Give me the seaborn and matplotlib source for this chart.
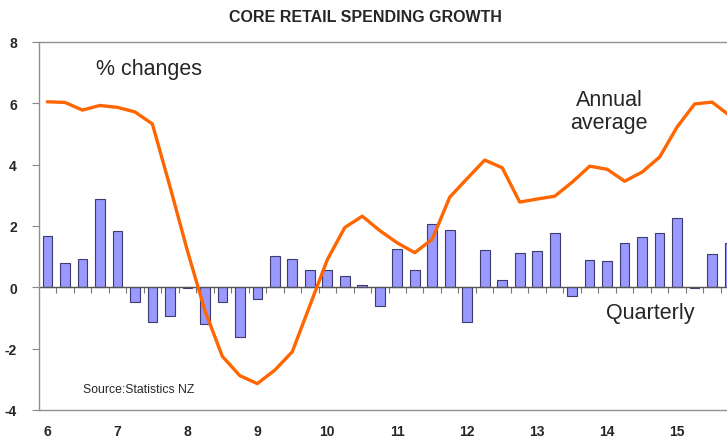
import numpy as np
import pandas as pd
import matplotlib
matplotlib.use("Agg")
import matplotlib.pyplot as plt
import seaborn as sns

# ---- data (quarterly, 2006 Q1 .. 2015 Q4) ----
quarter_idx = list(range(40))
quarterly = [1.67, 0.80, 0.91, 2.88, 1.83, -0.48, -1.12, -0.95, -0.03, -1.20,
             -0.48, -1.62, -0.38, 1.03, 0.92, 0.56, 0.56, 0.36, 0.06, -0.62,
             1.25, 0.56, 2.07, 1.88, -1.13, 1.22, 0.24, 1.12, 1.18, 1.77,
             -0.28, 0.90, 0.86, 1.45, 1.63, 1.77, 2.27, -0.02, 1.10, 1.45]
annual_avg = [6.05, 6.03, 5.78, 5.93, 5.87, 5.72, 5.33, 3.30, 1.20, -0.75,
              -2.25, -2.88, -3.14, -2.70, -2.10, -0.60, 0.90, 1.95, 2.32, 1.85,
              1.45, 1.13, 1.57, 2.94, 3.55, 4.15, 3.90, 2.78, 2.88, 2.97,
              3.43, 3.95, 3.85, 3.46, 3.76, 4.25, 5.23, 5.98, 6.04, 5.60]
year_labels = ["6", "7", "8", "9", "10", "11", "12", "13", "14", "15"]
y_ticks = [-4, -2, 0, 2, 4, 6, 8]

df = pd.DataFrame({"q": quarter_idx, "quarterly": quarterly, "annual": annual_avg})

sns.set_style("white")
plt.rcParams["font.family"] = ["Liberation Sans", "DejaVu Sans"]

fig = plt.figure(figsize=(7.27, 4.39), dpi=100)
ax = fig.add_axes([39 / 727, 1 - 411 / 439, 1 - 39 / 727, (411 - 43) / 439])

sns.barplot(data=df, x="q", y="quarterly", native_scale=True, width=0.55,
            color="#9999ff", saturation=1, edgecolor="#3c3c6e", linewidth=0.8,
            ax=ax, zorder=2)
sns.lineplot(data=df, x="q", y="annual", color="#ff6600", linewidth=2.4,
             ax=ax, zorder=3)

ax.axhline(0, color="#555555", linewidth=1.0, zorder=2.5)

ax.set_xlim(-0.48, 38.85)
ax.set_ylim(-4, 8)
ax.set_yticks(y_ticks)
ax.set_yticklabels([str(v) for v in y_ticks], fontsize=10, fontweight="bold")
ax.set_xticks(np.arange(0, 40, 4))
ax.set_xticklabels(year_labels, fontsize=10, fontweight="bold")
ax.tick_params(axis="y", direction="out", length=5, color="#888888", pad=11, left=True)
ax.tick_params(axis="x", length=0, pad=10)
ax.set_xlabel("")
ax.set_ylabel("")

for side in ["left", "top", "bottom"]:
    ax.spines[side].set_color("#909090")
    ax.spines[side].set_linewidth(1.0)
ax.spines["right"].set_visible(False)

# small ticks between quarters on the zero line
sec = ax.secondary_xaxis(4 / 12)
sec.set_xticks(np.arange(0.5, 39, 1))
sec.tick_params(axis="x", direction="out", length=4, color="#777777",
                labelbottom=False, labeltop=False, bottom=True, top=False)
sec.xaxis.set_ticks_position("bottom")
sec.set_xticklabels([])
for s in sec.spines.values():
    s.set_visible(False)

fig.text(365 / 727, 1 - 17.5 / 439, "CORE RETAIL SPENDING GROWTH", ha="center",
         va="center", fontsize=11.5, fontweight="bold")

ax.text(2.75, 7.15, "% changes", fontsize=15.5, va="center", ha="left")
ax.text(32.1, 5.75, "Annual\naverage", fontsize=15.5, va="center", ha="center",
        linespacing=1.15)
ax.text(34.45, -0.82, "Quarterly", fontsize=15.5, va="center", ha="center")
ax.text(2.05, -3.32, "Source:Statistics NZ", fontsize=8.8, va="center", ha="left")

fig.savefig("out.png", dpi=100)
